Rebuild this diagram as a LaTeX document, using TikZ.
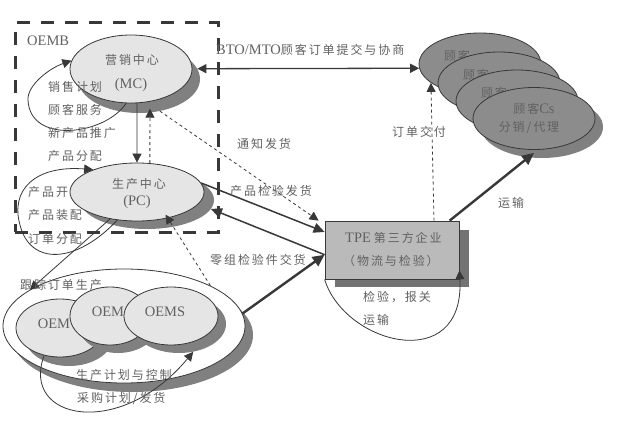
\documentclass[tikz,border=0pt]{standalone}
\usepackage{fontspec}
\setmainfont{Liberation Serif}
\newfontfamily\cjk[LetterSpace=16]{Noto Sans CJK SC}
\newcommand\zh[1]{{\cjk #1}}
\newcommand\en[1]{{\fontsize{14.5}{15}\selectfont #1}}
\usetikzlibrary{arrows.meta,shapes.geometric}
\definecolor{ink}{gray}{0.22}
\definecolor{txt}{gray}{0.38}
\tikzset{
  x=1pt,y=-1pt,
  lbl/.style={text=txt,font=\fontsize{12}{13}\selectfont,inner sep=0pt,anchor=west},
  clbl/.style={lbl,anchor=center},
  oval/.style={ellipse,draw=ink,line width=0.8pt,fill=black!10,inner sep=0pt},
  ovalsh/.style={ellipse,fill=black!50,inner sep=0pt},
  cust/.style={ellipse,draw=ink,line width=0.8pt,fill=black!45,inner sep=0pt},
  thin arrow/.style={draw=ink,line width=0.8pt,-{Triangle[length=9pt,width=9pt]}},
  med arrow/.style={draw=ink,line width=1.5pt,-{Triangle[length=11pt,width=10pt]}},
  thick arrow/.style={draw=ink,line width=2.4pt,-{Triangle[length=12pt,width=11pt]}},
  dash arrow/.style={draw=ink,line width=0.8pt,dashed,-{Triangle[length=9pt,width=9pt]}},
}
\begin{document}
\begin{tikzpicture}
\useasboundingbox[fill=white] (0,0) rectangle (620,422);
% lower-group outer ellipse
\node[ovalsh,minimum width=242pt,minimum height=114pt] (outers) at (132,335) {};
\node[ellipse,draw=ink,line width=0.8pt,fill=white,inner sep=0pt,minimum width=242pt,minimum height=114pt] (outer) at (124,326) {};
% shadows
\node[ovalsh,minimum width=122pt,minimum height=68pt] (mcs) at (139,79) {};
\node[ovalsh,minimum width=134pt,minimum height=58pt] (pcs) at (147,200) {};
% labels hidden partly by the ovals
\node[lbl] (t5) at (28,192) {\zh{产品开发}};
% MC and PC
\node[oval,minimum width=122pt,minimum height=68pt] (mc) at (131,69) {};
\node[oval,minimum width=134pt,minimum height=58pt] (pc) at (137,192) {};
% OEM ovals
\node[ovalsh,minimum width=88pt,minimum height=58pt] (o1s) at (69,337) {};
\node[oval,minimum width=88pt,minimum height=58pt] (o1) at (60,328) {};
\node[ovalsh,minimum width=80pt,minimum height=58pt] (o2s) at (118,324) {};
\node[oval,minimum width=80pt,minimum height=58pt] (o2) at (110,316) {};
\node[clbl] (oa) at (54,324) {\en{OEM}};
\node[clbl] (ob) at (108,312) {\en{OEM}};
\node[ovalsh,minimum width=94pt,minimum height=58pt] (o3s) at (179,324) {};
\node[oval,minimum width=94pt,minimum height=58pt] (o3) at (171,316) {};
\node[clbl] (oc) at (165,312) {\en{OEMS}};
% customers
\node[cust,minimum width=122pt,minimum height=62pt] (c1) at (480,64) {};
\node[clbl] (tc1) at (457,56) {\zh{顾客}};
\node[cust,minimum width=122pt,minimum height=62pt] (c2) at (499,83) {};
\node[clbl] (tc2) at (476,75) {\zh{顾客}};
\node[cust,minimum width=122pt,minimum height=62pt] (c3) at (517,101) {};
\node[clbl] (tc3) at (494,93) {\zh{顾客}};
\node[ovalsh,minimum width=122pt,minimum height=62pt] (c4s) at (542,127) {};
\node[cust,minimum width=122pt,minimum height=62pt] (c4) at (534,118.5) {};
% TPE box
\node[rectangle,fill=black!55,minimum width=134pt,minimum height=57pt,inner sep=0pt] (tpes) at (402,258.5) {};
\node[rectangle,draw=ink,line width=0.8pt,fill=black!27,minimum width=134pt,minimum height=58pt,inner sep=0pt] (tpe) at (392,250) {};
% OEMB dashed frame
\node[rectangle,draw=ink,line width=3pt,dash pattern=on 13pt off 11pt,minimum width=203pt,minimum height=209pt,inner sep=0pt] (oemb) at (116.5,127.5) {};
% connectors
\draw[thin arrow,{Triangle[length=9pt,width=9pt]}-{Triangle[length=9pt,width=9pt]},line width=1.3pt] (mcs.10) -- (c1.184);
\draw[thin arrow] (mc.-80) -- (pc.north);
\draw[dash arrow] (pc.66) -- ([yshift=4pt]mcs.-72);
\draw[dash arrow] (mcs.-57) -- ([xshift=-6pt]tpe.north west);
\draw[thin arrow] (mc.-98) .. controls (105,135) and (30,145) .. (28,100) .. controls (27,85) and (50,68) .. (mc.172);
\draw[thin arrow] (pc.-125) .. controls (75,265) and (30,265) .. (20,225) .. controls (10,190) and (35,165) .. (pc.153);
\draw[thin arrow] (pc.-135) -- (outer.159);
\draw[dash arrow] (outer.25) -- ([yshift=4pt]pc.-43);
\draw[med arrow] (pc.8) -- (tpe.165);
\draw[med arrow] (tpe.184) -- (pcs.-8);
\draw[thick arrow] (outer.6) -- (tpe.184);
\draw[thick arrow] (tpe.27.8) -- ([yshift=-3pt]c4.south);
\draw[dash arrow] (tpe.35.3) -- (c1.-159);
\draw[thin arrow] (tpe.south west) .. controls (345,345) and (465,375) .. ([yshift=9pt]tpe.south east);
\draw[thin arrow] (o1.-120) .. controls (20,420) and (120,440) .. (o3s.-63);
% labels
\node[lbl] (oemblbl) at (27,41) {\en{OEMB}};
\node[clbl] (t1) at (132,60) {\zh{营销中心}};
\node[lbl] (t2) at (48,87) {\zh{销售计划}};
\node[clbl] (t2b) at (131,85) {\en{(MC)}};
\node[lbl] (t3) at (48,110) {\zh{顾客服务}};
\node[lbl] (t4) at (48,133) {\zh{新产品推广}};
\node[lbl] (t4b) at (48,156) {\zh{产品分配}};
\node[clbl] (t6) at (139,184) {\zh{生产中心}};
\node[clbl] (t7) at (137,202) {\en{(PC)}};
\node[lbl] (t8) at (28,215) {\zh{产品装配}};
\node[lbl] (t9) at (28,239) {\zh{订单分配}};
\node[lbl] (t10) at (20,285) {\zh{跟踪订单生产}};
\node[lbl] (t11) at (76,375) {\zh{生产计划与控制}};
\node[lbl] (t12) at (77,398) {\zh{采购计划/发货}};
\node[lbl] (t13) at (210,260) {\zh{零组检验件交货}};
\node[lbl] (t14) at (237,144) {\zh{通知发货}};
\node[lbl] (t15) at (230,191) {\zh{产品检验发货}};
\node[lbl] (t16) at (216,50) {\en{BTO/MTO}\zh{顾客订单提交与协商}};
\node[lbl] (t17) at (392,132) {\zh{订单交付}};
\node[lbl] (t18) at (498,203) {\zh{运输}};
\node[lbl] (t19) at (345,238) {\en{TPE} \zh{第三方企业}};
\node[lbl] (t20) at (343,261) {\zh{（物流与检验）}};
\node[lbl] (t21) at (363,297) {\zh{检验，报关}};
\node[lbl] (t22) at (363,320) {\zh{运输}};
\node[clbl] (t23) at (534,109) {\zh{顾客}\en{Cs}};
\node[clbl] (t24) at (529,128) {\zh{分销/代理}};
\end{tikzpicture}
\end{document}
